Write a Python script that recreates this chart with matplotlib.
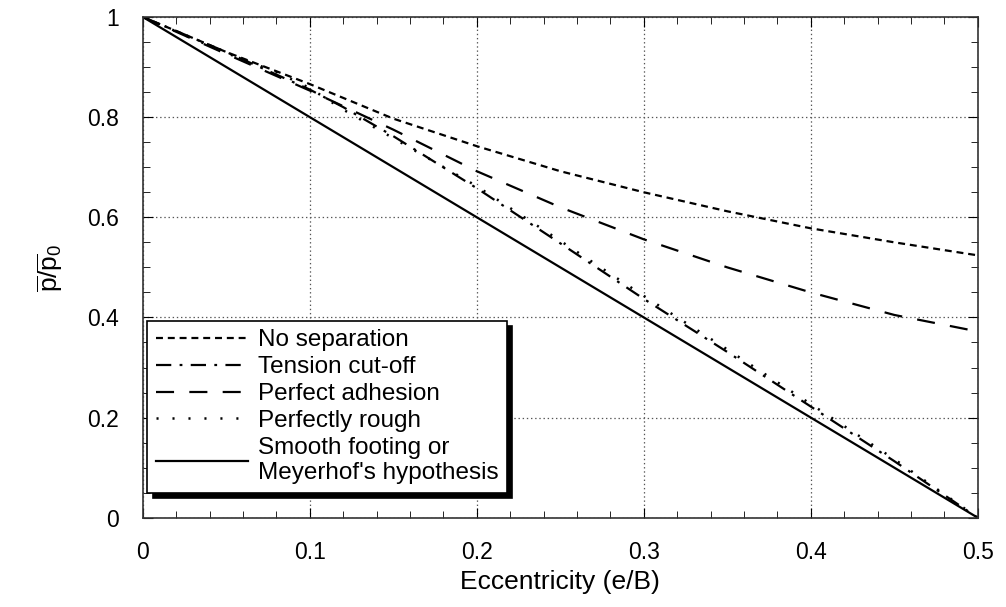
import numpy as np
import matplotlib
matplotlib.use("Agg")
import matplotlib.pyplot as plt
from matplotlib.ticker import MultipleLocator, FuncFormatter

plt.rcParams['font.family'] = ['Liberation Sans', 'DejaVu Sans']
plt.rcParams['mathtext.fontset'] = 'custom'
plt.rcParams['mathtext.rm'] = 'Liberation Sans'
plt.rcParams['mathtext.it'] = 'Liberation Sans'
plt.rcParams['lines.scale_dashes'] = False

# values
ecc = [0, 0.05, 0.1, 0.15, 0.2, 0.25, 0.3, 0.35, 0.4, 0.45, 0.5]
no_separation = [1, 0.93, 0.866, 0.797, 0.742, 0.692, 0.65, 0.612, 0.578, 0.55, 0.524]
perfect_adhesion = [1, 0.926, 0.853, 0.775, 0.692, 0.62, 0.556, 0.50, 0.45, 0.405, 0.372]

ecc_tc = [0, 0.05, 0.08, 0.1, 0.12, 0.15, 0.2, 0.25, 0.3, 0.35, 0.4, 0.45, 0.5]
tension_cutoff = [1, 0.93, 0.885, 0.855, 0.82, 0.762, 0.658, 0.548, 0.437, 0.331, 0.222, 0.113, 0.0]
perfectly_rough = [1, 0.928, 0.89, 0.858, 0.815, 0.758, 0.662, 0.553, 0.443, 0.336, 0.227, 0.117, 0.0]

ecc_smooth = [0, 0.5]
smooth = [1, 0]

fig = plt.figure(figsize=(10.06, 6.07), dpi=100)
ax = fig.add_axes([0.142, 0.147, 0.830, 0.825])

ax.plot(ecc, no_separation, color='black', lw=1.6, dashes=(5, 3.5), label='No separation')
ax.plot(ecc_tc, tension_cutoff, color='black', lw=1.6, dashes=(11, 6, 2, 6), label='Tension cut-off')
ax.plot(ecc, perfect_adhesion, color='black', lw=1.6, dashes=(13, 11), label='Perfect adhesion')
ax.plot(ecc_tc, perfectly_rough, color='black', lw=1.8, dashes=(1.5, 10), label='Perfectly rough')
ax.plot(ecc_smooth, smooth, color='black', lw=1.6, label="Smooth footing or\nMeyerhof's hypothesis")

ax.set_xlim(0, 0.5)
ax.set_ylim(0, 1)
ax.xaxis.set_major_locator(MultipleLocator(0.1))
ax.xaxis.set_minor_locator(MultipleLocator(0.02))
ax.yaxis.set_major_locator(MultipleLocator(0.2))
ax.yaxis.set_minor_locator(MultipleLocator(0.05))
fmt = FuncFormatter(lambda v, p: ('%g' % round(v, 2)))
ax.xaxis.set_major_formatter(fmt)
ax.yaxis.set_major_formatter(fmt)
ax.tick_params(which='both', direction='in', top=True, right=True, labelsize=16.5)
ax.tick_params(which='major', length=7)
ax.tick_params(axis='x', which='major', pad=17)
ax.tick_params(axis='y', which='major', pad=17)
ax.tick_params(which='minor', length=5)
ax.grid(True, which='major', color='#555555', lw=0.9, linestyle=(0, (1, 2)))
for s in ax.spines.values():
    s.set_linewidth(1.2)
    s.set_color('#333333')

ax.set_xlabel('Eccentricity (e/B)', fontsize=19, labelpad=4)
ax.set_ylabel(r'$\overline{\mathrm{p}}/\overline{\mathrm{p}}_0$', fontsize=19, labelpad=16)

leg = ax.legend(loc='lower left', bbox_to_anchor=(0.005, 0.05), borderaxespad=0,
                fontsize=17.5, handlelength=3.8, labelspacing=0.2, handletextpad=0.4,
                borderpad=0.35, fancybox=False, framealpha=1, edgecolor='black',
                shadow={'ox': 4, 'oy': -4, 'color': 'black', 'alpha': 1})
leg.get_frame().set_linewidth(1.2)

fig.savefig('out.png', dpi=100)
